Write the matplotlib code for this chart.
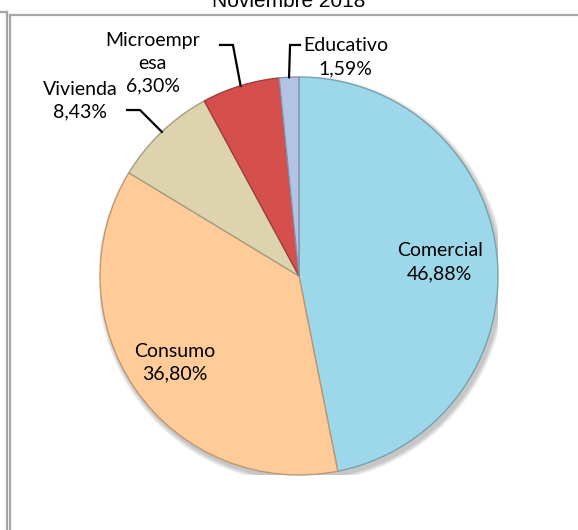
import numpy as np
import matplotlib
matplotlib.use("Agg")
import matplotlib.pyplot as plt
from matplotlib.lines import Line2D
from matplotlib.patches import Circle
import matplotlib.colors as mcolors

# data, clockwise from the top
categories = ["Comercial", "Consumo", "Vivienda", "Microempresa", "Educativo"]
label_text = ["Comercial", "Consumo", "Vivienda", "Microempr\nesa", "Educativo"]
shares = [46.88, 36.80, 8.43, 6.30, 1.59]
colors = ["#9DD8EA", "#FFCB98", "#DDD3AE", "#D5504D", "#B3C3E3"]
title = "Noviembre 2018"

W, H = 578, 530
fig = plt.figure(figsize=(W / 100, H / 100), dpi=100)

def px(x, y):
    # pixel (from top-left) -> figure fraction
    return x / W, 1 - y / H

# frame lines like the pasted chart box
frame_col = "#A6A6A6"
for (x0, y0), (x1, y1) in [((0, 12), (7, 12)), ((7, 12), (7, 530)),
                           ((10, 15), (578, 15)), ((10, 15), (10, 530))]:
    a, b = px(x0, y0)
    c, d = px(x1, y1)
    fig.add_artist(Line2D([a, c], [b, d], color=frame_col, lw=1.6))

fig.text(0.5, 1 - 7 / H, title, ha="center", va="baseline",
         fontsize=15, family="Liberation Sans")

cx, cy, r = 299, 276, 199
ax = fig.add_axes([(cx - r) / W, (H - cy - r) / H, 2 * r / W, 2 * r / H])
ax.axis("off")

# soft shadow under the pie
for k, al in enumerate([0.06, 0.06, 0.06, 0.06]):
    ax.add_patch(Circle((0.012, -0.018), 1.0 + 0.006 * (4 - k), color="black",
                        alpha=al, lw=0, zorder=0))

wedges, _ = ax.pie(shares, colors=colors, startangle=90, counterclock=False,
                   radius=1.0, wedgeprops=dict(linewidth=1.0))
for w, c in zip(wedges, colors):
    rgb = np.array(mcolors.to_rgb(c)) * 0.75
    w.set_edgecolor(rgb)
    w.set_zorder(2)

ax.set_xlim(-1, 1)
ax.set_ylim(-1, 1)
ax.set_aspect("equal")

fnt = dict(family=["Lato", "DejaVu Sans"], fontsize=14, color="black")
ls = 1.4

def mid_angle(i):
    start = 90 - 360 * sum(shares[:i]) / 100
    return np.deg2rad(start - 360 * shares[i] / 200)

def pct(v):
    return f"{v:.2f}%".replace(".", ",")

# inside labels
for i, rr in [(0, 0.71), (1, 0.76)]:
    t = mid_angle(i)
    ax.text(rr * np.cos(t), rr * np.sin(t), label_text[i] + "\n" + pct(shares[i]),
            ha="center", va="center", linespacing=ls, **fnt)

# outside labels with elbow leaders: (elbow, end, text position)
outside = {
    2: ((-0.799, 0.834), (-0.864, 0.834), (-1.10, 0.88)),
    3: ((-0.332, 1.161), (-0.397, 1.161), (-0.734, 1.07)),
    4: ((-0.045, 1.161), (0.005, 1.161), (0.235, 1.10)),
}
for i, (elb, end, tp) in outside.items():
    t = mid_angle(i)
    ex, ey = np.cos(t), np.sin(t)
    ax.plot([ex, elb[0], end[0]], [ey, elb[1], end[1]], color="black",
            lw=1.6, clip_on=False, zorder=3, solid_joinstyle="miter")
    ax.text(tp[0], tp[1], label_text[i] + "\n" + pct(shares[i]),
            ha="center", va="center", linespacing=ls, clip_on=False, **fnt)

fig.savefig("out.png", dpi=100)
